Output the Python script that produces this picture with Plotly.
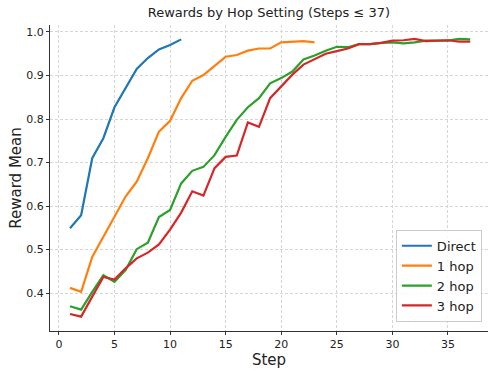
import plotly.graph_objects as go

direct_steps = list(range(1, 12))
direct_vals = [0.549, 0.579, 0.710, 0.756, 0.827, 0.871, 0.915, 0.940, 0.960, 0.970, 0.983]

hop1_steps = list(range(1, 24))
hop1_vals = [0.412, 0.403, 0.483, 0.530, 0.576, 0.622, 0.656, 0.710, 0.771, 0.796, 0.848,
             0.888, 0.901, 0.922, 0.943, 0.947, 0.957, 0.962, 0.962, 0.976, 0.978, 0.979, 0.976]

hop2_steps = list(range(1, 38))
hop2_vals = [0.370, 0.362, 0.403, 0.441, 0.426, 0.453, 0.501, 0.516, 0.575, 0.591, 0.652,
             0.681, 0.690, 0.717, 0.759, 0.798, 0.827, 0.848, 0.882, 0.894, 0.909, 0.937,
             0.946, 0.957, 0.966, 0.965, 0.972, 0.972, 0.975, 0.976, 0.974, 0.976, 0.980,
             0.980, 0.980, 0.984, 0.983]

hop3_steps = list(range(1, 38))
hop3_vals = [0.352, 0.346, 0.392, 0.437, 0.431, 0.457, 0.480, 0.493, 0.512, 0.546, 0.585,
             0.634, 0.624, 0.687, 0.713, 0.716, 0.792, 0.782, 0.848, 0.874, 0.902, 0.925,
             0.938, 0.950, 0.956, 0.962, 0.972, 0.972, 0.975, 0.980, 0.981, 0.984, 0.979,
             0.980, 0.981, 0.978, 0.978]

series = [
    ("Direct", direct_steps, direct_vals, "#1f77b4"),
    ("1 hop", hop1_steps, hop1_vals, "#ff7f0e"),
    ("2 hop", hop2_steps, hop2_vals, "#2ca02c"),
    ("3 hop", hop3_steps, hop3_vals, "#d62728"),
]

x_ticks = [0, 5, 10, 15, 20, 25, 30, 35]
y_ticks = [0.4, 0.5, 0.6, 0.7, 0.8, 0.9, 1.0]

fig = go.Figure()
for name, xs, ys, color in series:
    fig.add_trace(go.Scatter(x=xs, y=ys, mode="lines", name=name,
                             line=dict(color=color, width=2.2)))

font = "DejaVu Sans"
fig.update_layout(
    width=498, height=374,
    margin=dict(l=50, r=10, t=25, b=43),
    paper_bgcolor="white", plot_bgcolor="white",
    font=dict(family=font, color="#222222", size=11),
    title=dict(text="Rewards by Hop Setting (Steps ≤ 37)", x=0.54, xanchor="center",
               y=0.968, yanchor="middle", font=dict(size=13, family=font, color="#222222")),
    legend=dict(x=0.986, y=0.03, xanchor="right", yanchor="bottom",
                bordercolor="#cccccc", borderwidth=1, bgcolor="rgba(255,255,255,0.8)",
                font=dict(size=13, family=font), tracegroupgap=0, itemwidth=30),
    showlegend=True,
)
fig.update_xaxes(
    range=[-0.8, 38.6], tickvals=x_ticks, ticktext=[str(v) for v in x_ticks],
    showgrid=True, gridcolor="#d6d6d6", griddash="3px,2px", gridwidth=0.7,
    showline=True, linecolor="#333333", linewidth=1.2, zeroline=False,
    ticks="outside", ticklen=3, tickcolor="#333333", automargin=False,
    title=dict(text="Step", font=dict(size=15, family=font), standoff=1),
    tickfont=dict(size=11),
)
fig.update_yaxes(
    range=[0.313, 1.016], tickvals=y_ticks, ticktext=[f"{v:.1f}" for v in y_ticks],
    showgrid=True, gridcolor="#d6d6d6", griddash="3px,2px", gridwidth=0.7,
    showline=True, linecolor="#333333", linewidth=1.2, zeroline=False,
    ticks="outside", ticklen=3, tickcolor="#333333", automargin=False,
    title=dict(text="Reward Mean", font=dict(size=15, family=font), standoff=0),
    tickfont=dict(size=11),
)

fig.write_html(
    "out.html",
    config={"displayModeBar": False},
    post_script="document.body.style.margin='0';document.body.style.overflow='hidden';",
)
